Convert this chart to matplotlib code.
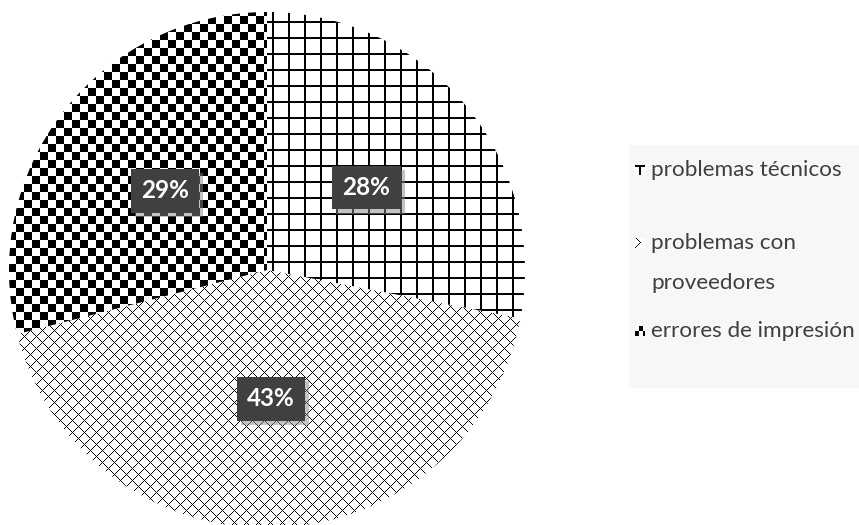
import numpy as np
import matplotlib
matplotlib.use('Agg')
import matplotlib.pyplot as plt
from matplotlib.patches import Rectangle
from matplotlib import patheffects

# causes of defects (percent)
categories = ['problemas técnicos', 'problemas con\nproveedores', 'errores de impresión']
values = [28, 43, 29]

W, H = 859, 525
TEXT_GREY = '#404040'

fig = plt.figure(figsize=(W / 100, H / 100), dpi=100)
ax = fig.add_axes([0, 0, 1, 1])

# pixel-level fill patterns (1 = white, 0 = black)
yy, xx = np.mgrid[0:H, 0:W]
grid = np.where(((xx - 272) % 16 < 2) | ((yy - 21) % 16 < 2), 0.0, 1.0)
diamond = np.where(((xx + yy) % 12 == 0) | ((xx - yy) % 12 == 0), 0.0, 1.0)
checker = np.where((xx // 8 + yy // 8) % 2 == 0, 0.0, 1.0)
patterns = [grid, diamond, checker]

# small swatches for the legend
my, mx = np.mgrid[0:10, 0:10]
swatches = [
    np.where((my < 2) | ((mx >= 4) & (mx < 6)), 0.0, 1.0),
    np.where(((mx == my + 1) & (my <= 4)) | ((mx == 9 - my) & (my >= 4)), 0.0, 1.0),
    np.where((mx // 4 + my // 5) % 2 == 1, 0.0, 1.0),
]


def pattern_image(pat, clip):
    im = ax.imshow(pat, cmap='gray', vmin=0, vmax=1, interpolation='nearest',
                   extent=(0, W, 0, H), origin='upper', zorder=0)
    im.set_clip_path(clip)
    return im


wedges, _, pct_texts = ax.pie(values, startangle=90, counterclock=False,
                              center=(267, H - 270), radius=258,
                              autopct='%1.0f%%', pctdistance=0.5,
                              wedgeprops=dict(facecolor='none', edgecolor='none'),
                              textprops=dict(color='white', fontsize=17.5,
                                             fontweight='bold', family='Lato'))
for w, pat in zip(wedges, patterns):
    pattern_image(pat, w)

for t in pct_texts:
    t.set_zorder(5)
    t.set_bbox(dict(boxstyle='square,pad=0.42', facecolor='#404040', edgecolor='none'))
    t.get_bbox_patch().set_path_effects([
        patheffects.SimplePatchShadow(offset=(3, -3), shadow_rgbFace='#888888', alpha=0.5),
        patheffects.Normal()])

# legend panel
ax.add_patch(Rectangle((629, H - 388), W - 629, 243, facecolor='#f7f7f7',
                       edgecolor='none', zorder=1))
legend_rows = [170, 243, 331]
for label, sw, ry in zip(categories, swatches, legend_rows):
    ax.imshow(sw, cmap='gray', vmin=0, vmax=1, interpolation='nearest',
              extent=(635, 645, H - ry - 5, H - ry + 5), origin='upper', zorder=2)
    for k, line in enumerate(label.split('\n')):
        ax.text(651, H - ry - 40 * k, line, ha='left', va='center',
                fontsize=16.2, color=TEXT_GREY, family='Lato', zorder=3)

ax.set_xlim(0, W)
ax.set_ylim(0, H)
ax.set_aspect('auto')
ax.axis('off')

fig.savefig('out.png', dpi=100, facecolor='white')
